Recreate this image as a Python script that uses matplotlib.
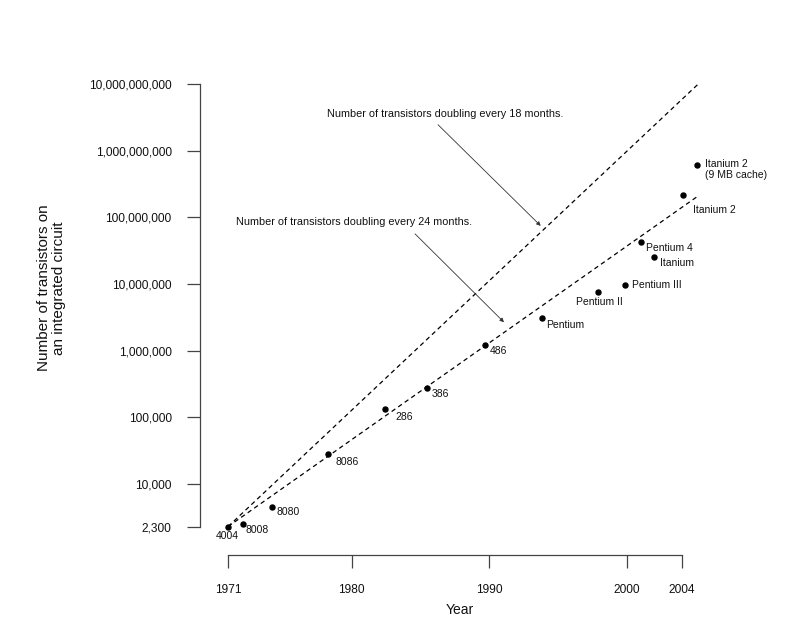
import numpy as np
import matplotlib as mpl
mpl.use('Agg')
from matplotlib import pyplot as plt
import matplotlib.ticker as ticker

plt.rcParams['font.family'] = ['Liberation Sans', 'DejaVu Sans']

#------------------- Data ----------------------
chips = ['4004', '8008', '8080', '8086', '286', '386', '486', 'Pentium',
         'Pentium II', 'Pentium III', 'Pentium 4', 'Itanium', 'Itanium 2',
         'Itanium 2\n(9 MB cache)']
years = [1971.0, 1972.1, 1974.2, 1978.3, 1982.4, 1985.5, 1989.7, 1993.8,
         1997.9, 1999.9, 2001.0, 2002.0, 2004.1, 2005.1]
transistors = [2300, 2500, 4600, 28000, 134000, 275000, 1200000, 3100000,
               7500000, 9500000, 42000000, 25000000, 220000000, 600000000]

trend_years = [1971, 2005.2]
trend_18 = [2300, 1.0e10]
trend_24 = [2300, 2.1e8]

xtick = [1971, 1980, 1990, 2000, 2004]
ytick = [2300, 1e4, 1e5, 1e6, 1e7, 1e8, 1e9, 1e10]
ytick_labels = ['2,300', '10,000', '100,000', '1,000,000', '10,000,000',
                '100,000,000', '1,000,000,000', '10,000,000,000']

# label offsets in points (x, y), alignment
label_style = {
    '4004': ((-0.7, -6.5), 'center'),
    '8008': ((2, -4.3), 'left'),
    '8080': ((3, -4.3), 'left'),
    '8086': ((5, -5.8), 'left'),
    '286': ((8, -5.8), 'left'),
    '386': ((3, -4.3), 'left'),
    '486': ((3, -4.3), 'left'),
    'Pentium': ((3.6, -5), 'left'),
    'Pentium II': ((0.7, -6.8), 'center'),
    'Pentium III': ((5, 0), 'left'),
    'Pentium 4': ((3.6, -4.3), 'left'),
    'Itanium': ((4.3, -4.3), 'left'),
    'Itanium 2': ((7.2, -11.5), 'left'),
    'Itanium 2\n(9 MB cache)': ((5.8, -2.9), 'left'),
}

#------------------- Plot ----------------------
fig = plt.figure(figsize=(8, 6.4), dpi=100)
ax = fig.add_axes([0.25, 0.1328, 0.65, 0.7516])
ax.set_yscale('log')
ax.set_xlim(1968.96, 2006.78)
ax.set_ylim(862, 10**10.15)

dash = (0, (3.6, 2.8))
ax.plot(trend_years, trend_18, linestyle=dash, linewidth=0.9, color='black')
ax.plot(trend_years, trend_24, linestyle=dash, linewidth=0.9, color='black')
ax.plot(years, transistors, 'o', markersize=3.6, color='black', zorder=3)

for name, x, y in zip(chips, years, transistors):
    off, ha = label_style[name]
    ax.annotate(name, (x, y), xytext=off, textcoords='offset points',
                ha=ha, va='center', fontsize=7.5, color='#111111')

arrow = dict(arrowstyle='-|>', color='#333333', linewidth=0.6,
             mutation_scale=6, shrinkA=0, shrinkB=0)
ax.text(1978.2, 3.58e9, 'Number of transistors doubling every 18 months.',
        ha='left', va='center', fontsize=7.8, color='#111111')
ax.annotate('', xy=(1993.74, 7.45e7), xytext=(1986.27, 2.45e9), arrowprops=arrow)
ax.text(1971.56, 8.57e7, 'Number of transistors doubling every 24 months.',
        ha='left', va='center', fontsize=7.8, color='#111111')
ax.annotate('', xy=(1991.07, 2.67e6), xytext=(1984.6, 5.65e7), arrowprops=arrow)

#------------------- Axes ----------------------
for s in ['top', 'right']:
    ax.spines[s].set_visible(False)
ax.spines['left'].set_bounds(ytick[0], ytick[-1])
ax.spines['bottom'].set_bounds(xtick[0], xtick[-1])
for s in ['left', 'bottom']:
    ax.spines[s].set_color('#444444')
    ax.spines[s].set_linewidth(0.9)

ax.yaxis.set_major_locator(ticker.FixedLocator(ytick))
ax.yaxis.set_major_formatter(ticker.FixedFormatter(ytick_labels))
ax.yaxis.set_minor_locator(ticker.NullLocator())
ax.set_xticks(xtick)
ax.set_xticklabels([str(t) for t in xtick])
ax.tick_params(axis='both', length=9.4, width=0.9, color='#444444',
               labelsize=8.6, labelcolor='#111111')
ax.tick_params(axis='y', pad=11)
ax.tick_params(axis='x', pad=11.5)

ax.set_xlabel('Year', fontsize=10, color='#111111')
ax.xaxis.set_label_coords(0.5, -0.114)
ax.xaxis.label.set_va('center')
ax.set_ylabel('Number of transistors on\nan integrated circuit', fontsize=11,
              color='#111111', linespacing=1.1)
ax.yaxis.set_label_coords(-0.285, 0.555)
ax.yaxis.label.set_va('center')

plt.savefig('out.png', dpi=100)
